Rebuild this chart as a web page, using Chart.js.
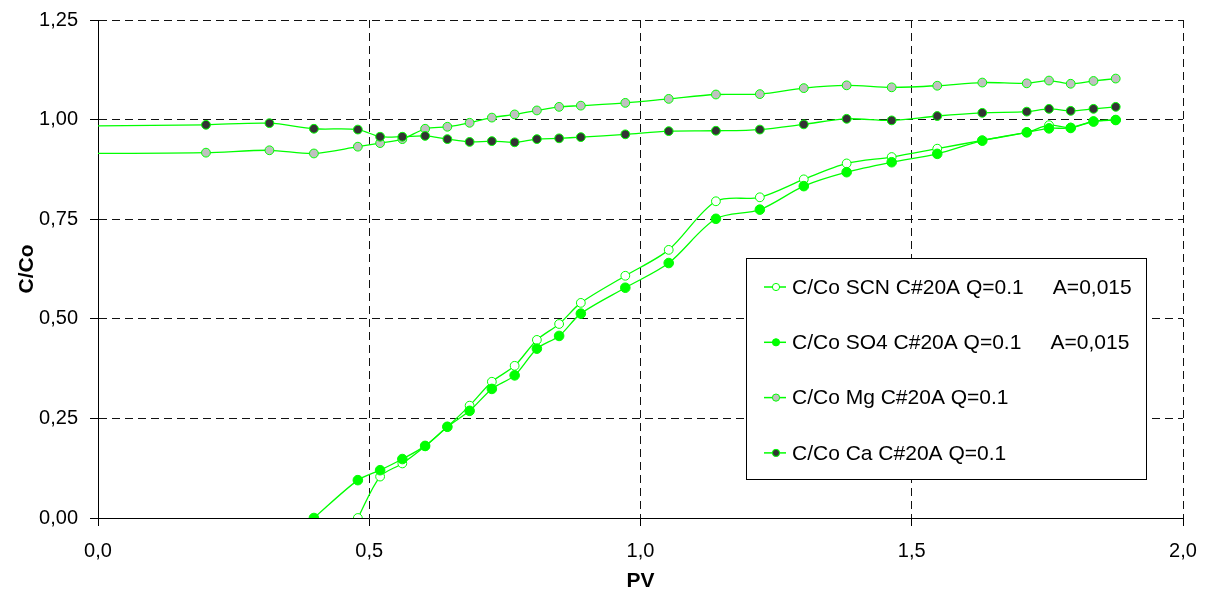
<!DOCTYPE html>
<html>
<head>
<meta charset="utf-8">
<script src="https://cdn.jsdelivr.net/npm/chart.js@4.4.1/dist/chart.umd.min.js"></script>
<style>
  html, body { margin: 0; padding: 0; background: #fff; }
  #wrap { width: 1206px; height: 594px; }
</style>
</head>
<body>
<div id="wrap"><canvas id="chart" width="1206" height="594"></canvas></div>
<script>
// --- data ---
const pvMgCa = [0, 0.199, 0.316, 0.398, 0.479, 0.520, 0.561, 0.603, 0.644, 0.685, 0.726, 0.768, 0.809, 0.850, 0.890, 0.972, 1.052, 1.139, 1.220, 1.301, 1.380, 1.463, 1.547, 1.630, 1.712, 1.753, 1.793, 1.835, 1.876];
const mgValues = [0.915, 0.917, 0.923, 0.915, 0.932, 0.941, 0.951, 0.977, 0.982, 0.992, 1.005, 1.013, 1.023, 1.032, 1.035, 1.042, 1.052, 1.063, 1.064, 1.079, 1.086, 1.081, 1.085, 1.093, 1.091, 1.098, 1.090, 1.097, 1.103];
const caValues = [0.984, 0.987, 0.991, 0.977, 0.975, 0.957, 0.957, 0.959, 0.951, 0.944, 0.946, 0.943, 0.951, 0.953, 0.956, 0.963, 0.971, 0.972, 0.975, 0.988, 1.002, 0.998, 1.009, 1.017, 1.020, 1.027, 1.022, 1.027, 1.032];

const pvSO4 = [0.398, 0.479, 0.520, 0.561, 0.603, 0.644, 0.685, 0.726, 0.768, 0.809, 0.850, 0.890, 0.972, 1.052, 1.139, 1.220, 1.301, 1.380, 1.463, 1.547, 1.630, 1.712, 1.753, 1.793, 1.835, 1.876];
const so4Values = [0, 0.095, 0.120, 0.148, 0.181, 0.229, 0.269, 0.324, 0.358, 0.425, 0.457, 0.513, 0.578, 0.640, 0.751, 0.774, 0.833, 0.868, 0.893, 0.914, 0.947, 0.968, 0.978, 0.979, 0.995, 0.999];

const pvSCN = [0.479, 0.520, 0.561, 0.603, 0.644, 0.685, 0.726, 0.768, 0.809, 0.850, 0.890, 0.972, 1.052, 1.139, 1.220, 1.301, 1.380, 1.463, 1.547, 1.630, 1.712, 1.753, 1.793, 1.835, 1.876];
const scnValues = [0, 0.104, 0.137, 0.180, 0.229, 0.282, 0.342, 0.382, 0.447, 0.487, 0.540, 0.608, 0.673, 0.795, 0.805, 0.850, 0.890, 0.906, 0.927, 0.948, 0.968, 0.986, 0.980, 0.996, 0.999];

const seriesLabels = [
  'C/Co SCN C#20A Q=0.1     A=0,015',
  'C/Co SO4 C#20A Q=0.1     A=0,015',
  'C/Co Mg C#20A Q=0.1',
  'C/Co Ca C#20A Q=0.1'
];
const yTicks = [0, 0.25, 0.5, 0.75, 1.0, 1.25];
const xTicks = [0, 0.5, 1.0, 1.5, 2.0];

const GREEN = '#00ff00';
const FONT = "'Liberation Sans', Arial, sans-serif";

function pts(xs, ys) {
  return xs.map((x, i) => ({ x: x, y: ys[i] }));
}

// first Mg/Ca point (at PV = 0) has no marker
const startRadius = pvMgCa.map((x, i) => i === 0 ? 0 : 4.4);

const markerFill = ['#ffffff', GREEN, '#c0c0c0', '#333333'];

// legend box drawn inside the plot area, like the original
const boxLegend = {
  id: 'boxLegend',
  afterDatasetsDraw(chart) {
    const ctx = chart.ctx;
    const x0 = 746.5, y0 = 258.5, w = 400, h = 221;
    ctx.save();
    ctx.fillStyle = '#fff';
    ctx.fillRect(x0, y0, w, h);
    ctx.strokeStyle = '#000';
    ctx.lineWidth = 1;
    ctx.strokeRect(x0, y0, w, h);
    ctx.font = '21px ' + FONT;
    ctx.textBaseline = 'middle';
    seriesLabels.forEach((label, i) => {
      const cy = 287 + i * 55.3;
      ctx.strokeStyle = GREEN;
      ctx.lineWidth = 1.5;
      ctx.beginPath();
      ctx.moveTo(764, cy);
      ctx.lineTo(786, cy);
      ctx.stroke();
      ctx.beginPath();
      ctx.arc(776, cy, 3.6, 0, Math.PI * 2);
      ctx.fillStyle = markerFill[i];
      ctx.fill();
      ctx.lineWidth = 1;
      ctx.stroke();
      ctx.fillStyle = '#000';
      ctx.fillText(label, 792, cy + 1);
    });
    ctx.restore();
  }
};

const ctx = document.getElementById('chart');
new Chart(ctx, {
  type: 'line',
  data: {
    datasets: [
      {
        label: seriesLabels[0],
        data: pts(pvSCN, scnValues),
        borderColor: GREEN, borderWidth: 1.3,
        pointStyle: 'circle', pointRadius: 4.4,
        pointBackgroundColor: '#ffffff', pointBorderColor: GREEN, pointBorderWidth: 1,
        tension: 0.3, order: 4
      },
      {
        label: seriesLabels[1],
        data: pts(pvSO4, so4Values),
        borderColor: GREEN, borderWidth: 1.3,
        pointRadius: 4.8,
        pointBackgroundColor: GREEN, pointBorderColor: GREEN, pointBorderWidth: 1,
        tension: 0.3, order: 3
      },
      {
        label: seriesLabels[2],
        data: pts(pvMgCa, mgValues),
        borderColor: GREEN, borderWidth: 1.3,
        pointRadius: startRadius,
        pointBackgroundColor: '#c0c0c0', pointBorderColor: GREEN, pointBorderWidth: 1,
        tension: 0.3, order: 2
      },
      {
        label: seriesLabels[3],
        data: pts(pvMgCa, caValues),
        borderColor: GREEN, borderWidth: 1.3,
        pointRadius: startRadius,
        pointBackgroundColor: '#333333', pointBorderColor: GREEN, pointBorderWidth: 1,
        tension: 0.3, order: 1
      }
    ]
  },
  options: {
    responsive: false,
    animation: false,
    events: [],
    layout: { autoPadding: false, padding: { top: 20, right: 23, left: 0, bottom: 0 } },
    plugins: {
      legend: { display: false },
      tooltip: { enabled: false }
    },
    scales: {
      x: {
        type: 'linear',
        min: 0, max: 2,
        afterBuildTicks: (scale) => { scale.ticks = xTicks.map(v => ({ value: v })); },
        afterFit: (scale) => { scale.height = 76; scale.paddingLeft = 0; scale.paddingRight = 0; },
        ticks: {
          color: '#000',
          font: { family: FONT, size: 20 },
          padding: 13,
          maxRotation: 0,
          callback: (v) => v.toFixed(1).replace('.', ',')
        },
        grid: { color: '#111', lineWidth: 1, tickLength: 8, tickBorderDash: [], tickColor: '#000' },
        border: { display: true, color: '#000', width: 1, dash: [8, 5] },
        title: {
          display: true, text: 'PV', color: '#000',
          font: { family: FONT, size: 21, weight: 'bold' },
          padding: { top: 0, bottom: 0 }
        }
      },
      y: {
        type: 'linear',
        min: 0, max: 1.25,
        afterBuildTicks: (scale) => { scale.ticks = yTicks.map(v => ({ value: v })); },
        afterFit: (scale) => { scale.width = 98; scale.paddingTop = 0; scale.paddingBottom = 0; },
        ticks: {
          color: '#000',
          font: { family: FONT, size: 20 },
          padding: 12,
          callback: (v) => v.toFixed(2).replace('.', ',')
        },
        grid: { color: '#111', lineWidth: 1, tickLength: 8, tickBorderDash: [], tickColor: '#000' },
        border: { display: true, color: '#000', width: 1, dash: [8, 5] },
        title: {
          display: true, text: 'C/Co', color: '#000',
          font: { family: FONT, size: 21, weight: 'bold' },
          padding: { top: 15, bottom: 0 }
        }
      }
    }
  },
  plugins: [boxLegend]
});
</script>
</body>
</html>
